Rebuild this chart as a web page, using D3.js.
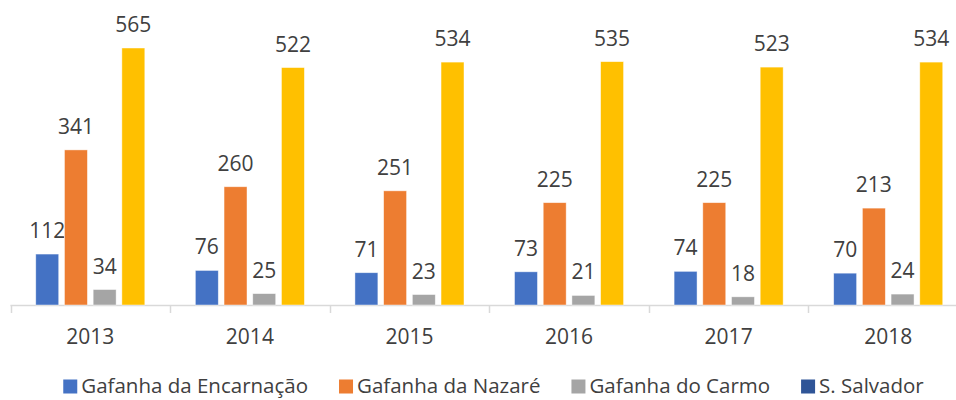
<!DOCTYPE html>
<html><head><meta charset="utf-8">
<script src="https://cdn.jsdelivr.net/npm/d3@7"></script>
<style>body{margin:0;background:#fff}svg{display:block}</style>
</head><body>
<svg id="c" width="956" height="400"></svg>
<script>
const years = ["2013","2014","2015","2016","2017","2018"];
const seriesNames = ["Gafanha da Encarnação","Gafanha da Nazaré","Gafanha do Carmo","S. Salvador"];
const encarnacao = [112,76,71,73,74,70];
const nazare = [341,260,251,225,225,213];
const carmo = [34,25,23,21,18,24];
const salvador = [565,522,534,535,523,534];
const barColors = ["#4472C4","#ED7D31","#A5A5A5","#FFC000"];
const legendColors = ["#4472C4","#ED7D31","#A5A5A5","#2F5597"];

const values = [encarnacao, nazare, carmo, salvador];
const svg = d3.select("#c");
const font = "'Open Sans', sans-serif";
const base = 305;

const x0 = d3.scaleBand().domain(years).range([10.5, 968]).paddingInner(0).paddingOuter(0);
const x1 = d3.scaleBand().domain(seriesNames).range([0, x0.bandwidth()]).paddingInner(0.2).paddingOuter(0.88);
const y = d3.scaleLinear().domain([0, 600]).range([base, base - 600 * 257 / 565]);

// axis line and ticks
svg.append("line").attr("x1", 10.5).attr("x2", 956).attr("y1", base + 0.5).attr("y2", base + 0.5)
  .attr("stroke", "#D9D9D9").attr("stroke-width", 1.5);
const bounds = years.map(d => x0(d)).concat([x0(years[5]) + x0.bandwidth()]);
svg.selectAll("line.tk").data(bounds).join("line").attr("class","tk")
  .attr("x1", d => Math.round(d) + 0.5).attr("x2", d => Math.round(d) + 0.5)
  .attr("y1", base).attr("y2", base + 8).attr("stroke", "#D9D9D9").attr("stroke-width", 1.5);

// bars
const g = svg.selectAll("g.grp").data(years).join("g").attr("class","grp")
  .attr("transform", d => `translate(${x0(d)},0)`);
seriesNames.forEach((s, si) => {
  g.append("rect")
    .attr("x", x1(s)).attr("width", x1.bandwidth())
    .attr("y", (d, i) => y(values[si][i])).attr("height", (d, i) => base - y(values[si][i]))
    .attr("fill", barColors[si]).attr("stroke", "#fff").attr("stroke-opacity", 0.6).attr("stroke-width", 0.75);
  g.append("text")
    .attr("x", x1(s) + x1.bandwidth() / 2)
    .attr("y", (d, i) => y(values[si][i]) - 16)
    .attr("text-anchor", "middle").attr("font-family", font).attr("font-size", 21)
    .attr("fill", "#404040").text((d, i) => values[si][i]);
});

// year labels
svg.selectAll("text.yr").data(years).join("text").attr("class","yr")
  .attr("x", d => x0(d) + x0.bandwidth() / 2).attr("y", 344)
  .attr("text-anchor", "middle").attr("font-family", font).attr("font-size", 21)
  .attr("fill", "#404040").text(d => d);

// legend (laid out from measured text widths, centred)
const sq = 14, gapTxt = 4, gapItem = 31, legCenter = 493.5;
const lg = svg.append("g");
const items = seriesNames.map((s, i) => {
  const t = lg.append("text").attr("y", 393).attr("font-family", font).attr("font-size", 20.5)
    .attr("fill", "#404040").text(s);
  return {t, w: t.node().getComputedTextLength(), i};
});
const total = d3.sum(items, d => sq + gapTxt + d.w) + gapItem * (items.length - 1);
let cx = legCenter - total / 2;
items.forEach(d => {
  lg.append("rect").attr("x", cx).attr("y", 379.5).attr("width", sq).attr("height", sq).attr("fill", legendColors[d.i]);
  d.t.attr("x", cx + sq + gapTxt);
  cx += sq + gapTxt + d.w + gapItem;
});
</script>
</body></html>
